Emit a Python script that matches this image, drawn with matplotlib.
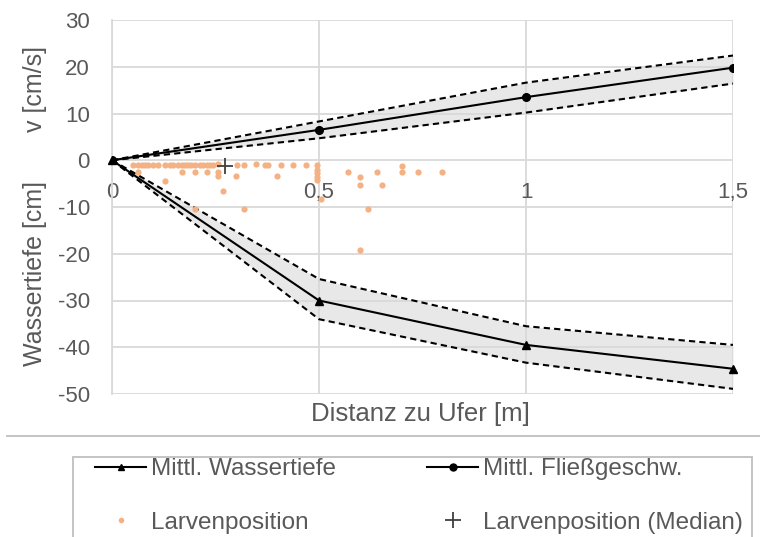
import matplotlib
matplotlib.use("Agg")
import matplotlib.pyplot as plt
from matplotlib.lines import Line2D
from matplotlib.patches import Rectangle

plt.rcParams['font.family'] = ['Liberation Sans', 'DejaVu Sans']
plt.rcParams['axes.unicode_minus'] = False

# ---------------- data ----------------
dist = [0, 0.5, 1.0, 1.5]
v_mean = [0, 6.5, 13.5, 19.8]
v_upper = [0, 8.3, 16.6, 22.4]
v_lower = [0, 4.7, 10.2, 16.4]

depth_mean = [0, -30.0, -39.5, -44.6]
depth_upper = [0, -25.4, -35.5, -39.5]
depth_lower = [0, -34.0, -43.3, -48.9]

larvae_x = [0.050, 0.064, 0.072, 0.080, 0.088, 0.100, 0.112, 0.128, 0.140, 0.148,
            0.160, 0.168, 0.176, 0.184, 0.192, 0.200, 0.213, 0.221, 0.229, 0.237,
            0.245, 0.257, 0.301, 0.319, 0.348, 0.370, 0.378, 0.408, 0.438, 0.468,
            0.496,
            0.064, 0.168, 0.200, 0.229, 0.257, 0.496, 0.571, 0.639, 0.700, 0.740, 0.796,
            0.257, 0.299, 0.399, 0.496, 0.496, 0.600,
            0.128, 0.496, 0.600, 0.651, 0.700, 0.267, 0.506,
            0.200, 0.319, 0.619, 0.600]
larvae_y = [-1.1, -1.1, -1.1, -1.1, -1.1, -1.1, -1.1, -1.1, -1.1, -1.1,
            -1.1, -1.1, -1.1, -1.1, -1.1, -1.1, -1.1, -1.1, -1.1, -1.1,
            -1.1, -0.8, -1.1, -1.1, -0.8, -1.1, -1.1, -1.1, -1.1, -1.1,
            -1.1,
            -2.6, -2.6, -2.6, -2.6, -2.6, -2.1, -2.6, -2.6, -2.6, -2.6, -2.6,
            -3.4, -3.4, -3.4, -2.8, -3.5, -3.5,
            -4.4, -4.3, -5.3, -5.3, -1.3, -6.6, -8.3,
            -10.5, -10.5, -10.5, -19.2]
median_x = [0.273]
median_y = [-1.2]

x_ticks = [0, 0.5, 1.0, 1.5]
x_ticklabels = ["0", "0,5", "1", "1,5"]
y_ticks = [-50, -40, -30, -20, -10, 0, 10, 20, 30]

# ---------------- figure ----------------
W, H = 760, 537
fig = plt.figure(figsize=(W / 100, H / 100), dpi=100)
ax = fig.add_axes([112 / W, 1 - 394 / H, (733 - 112) / W, (394 - 20) / H])

grid_c = '#d9d9d9'
txt_c = '#595959'

ax.set_xlim(0, 1.5)
ax.set_ylim(-50, 30)
ax.set_xticks(x_ticks)
ax.set_xticklabels(x_ticklabels)
ax.set_yticks(y_ticks)
ax.grid(True, color=grid_c, lw=1.3, zorder=0)
for s in ax.spines.values():
    s.set_visible(False)
ax.spines['bottom'].set_position(('data', 0))
ax.spines['left'].set_visible(True)
ax.spines['left'].set_color(grid_c)
ax.spines['left'].set_linewidth(1.3)
ax.tick_params(axis='both', length=0, labelsize=16, colors=txt_c)
ax.tick_params(axis='x', pad=16)
ax.tick_params(axis='y', pad=16)

fill_c = '#bfbfbf'
ax.fill_between(dist, v_lower, v_upper, color=fill_c, alpha=0.35, lw=0, zorder=1)
ax.fill_between(dist, depth_lower, depth_upper, color=fill_c, alpha=0.35, lw=0, zorder=1)

dash = (3, 2)
for arr in (v_upper, v_lower, depth_upper, depth_lower):
    ax.plot(dist, arr, color='black', lw=1.5, linestyle=(0, dash), zorder=3)

ax.plot(dist, v_mean, color='black', lw=1.5, marker='o', ms=5.5, zorder=4)
ax.plot(dist, depth_mean, color='black', lw=1.5, marker='^', ms=6, zorder=4, clip_on=False)

ax.scatter(larvae_x, larvae_y, s=20, color='#f4b183', lw=0, zorder=5)
ax.plot(median_x, median_y, linestyle='none', marker='+', ms=12, mew=1.3,
        color='#404040', zorder=6)

# axis titles
fig.text(35 / W, 1 - 89 / H, 'v [cm/s]', rotation=90, ha='center', va='center',
         fontsize=18, color=txt_c)
fig.text(35 / W, 1 - 274 / H, 'Wassertiefe [cm]', rotation=90, ha='center', va='center',
         fontsize=18, color=txt_c)
fig.text(420 / W, 1 - 414 / H, 'Distanz zu Ufer [m]', ha='center', va='center',
         fontsize=18.5, color=txt_c)

# separator line
fig.add_artist(Line2D([7 / W, 1.0], [1 - 436 / H, 1 - 436 / H], color='#bfbfbf', lw=1.3))

# legend frame
fig.add_artist(Rectangle((73 / W, -0.1), (752 - 73) / W, 1 - 457 / H + 0.1,
                         transform=fig.transFigure, fill=False, ec='#bfbfbf', lw=1.3))

handles = [
    Line2D([], [], color='black', lw=1.5, marker='^', ms=5),
    Line2D([], [], color='#f4b183', marker='o', ms=4, linestyle='none', mew=0),
    Line2D([], [], color='black', lw=1.5, marker='o', ms=5),
    Line2D([], [], color='#404040', marker='+', ms=12, mew=1.3, linestyle='none'),
]
labels = ['Mittl. Wassertiefe', 'Larvenposition', 'Mittl. Fließgeschw.',
          'Larvenposition (Median)']
leg = fig.legend(handles, labels, ncol=2, loc='upper left',
                 bbox_to_anchor=(95 / W, 1 - 458 / H), frameon=False,
                 fontsize=17.5, borderpad=0, borderaxespad=0, handlelength=2.1,
                 handletextpad=0.2, columnspacing=3.75, labelspacing=1.3)
for t in leg.get_texts():
    t.set_color(txt_c)

fig.savefig('out.png', dpi=100)
